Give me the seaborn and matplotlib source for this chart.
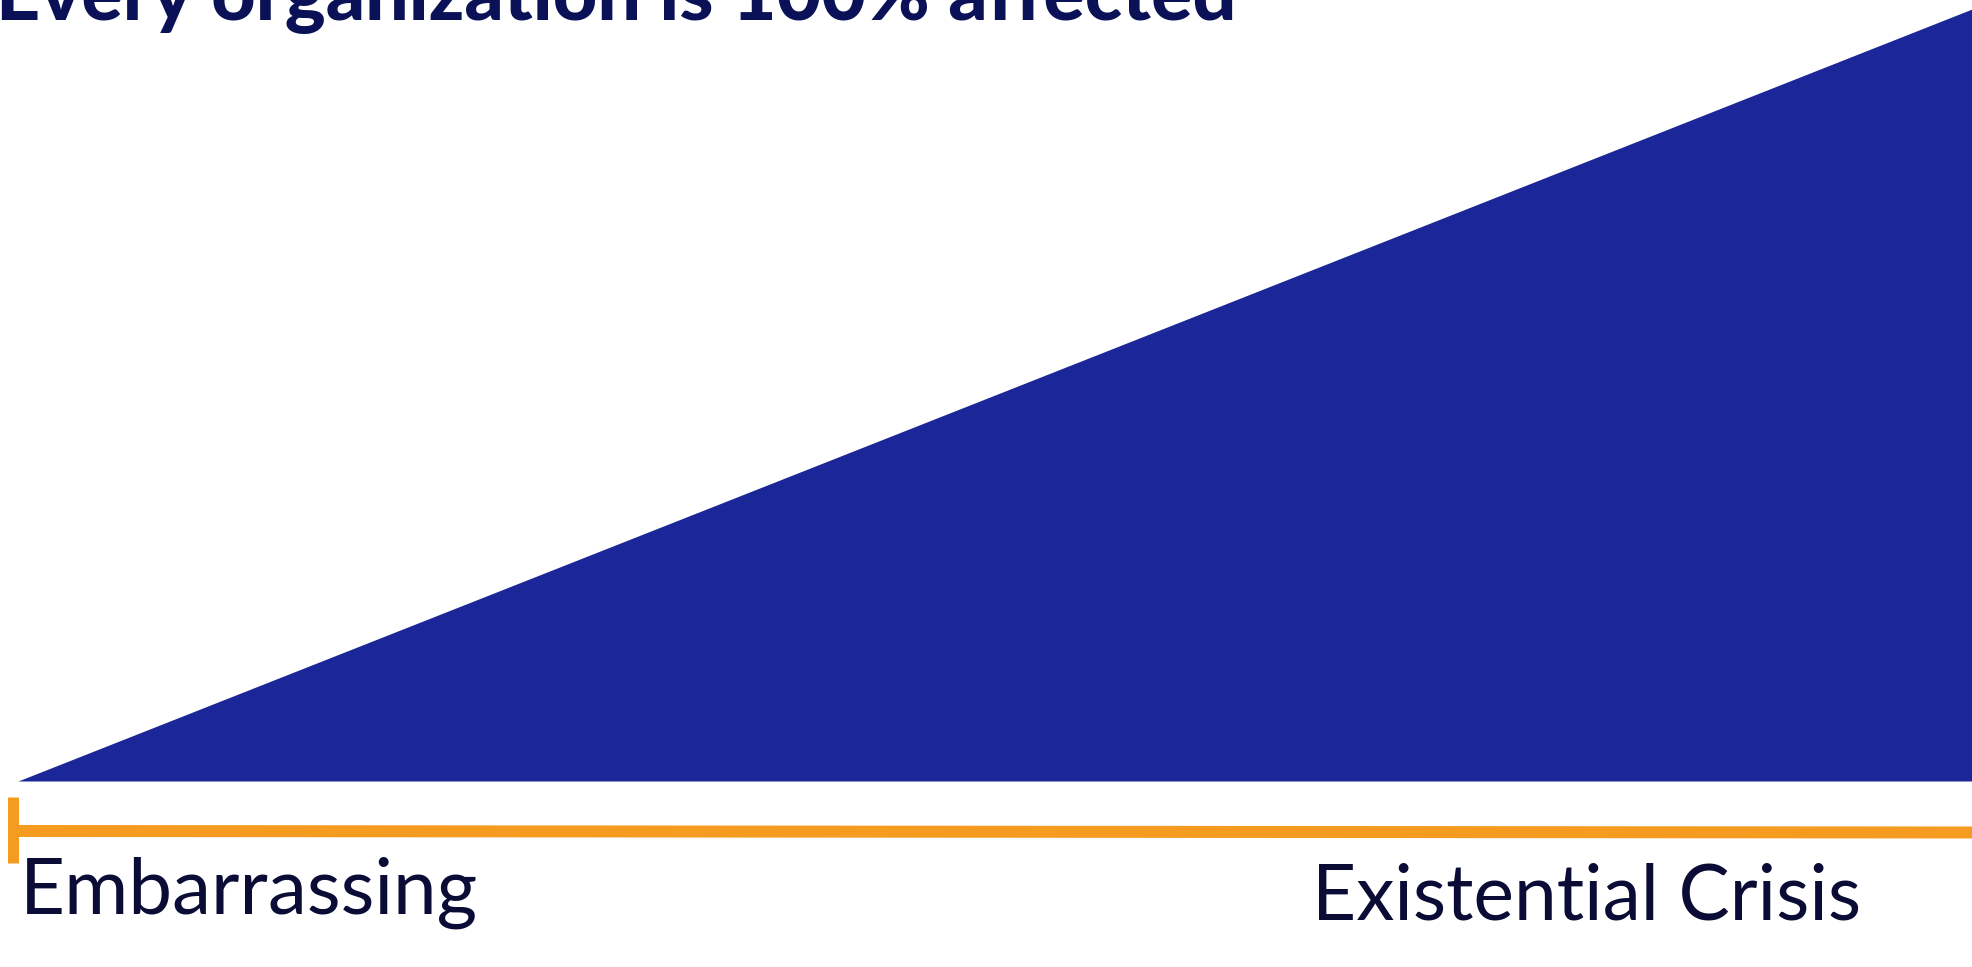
import matplotlib
matplotlib.use("Agg")
import matplotlib.pyplot as plt
import seaborn as sns
import pandas as pd

# ---- data ----
severity_pos = [0, 100]          # position along the severity scale
affected_pct = [0, 100]          # % of organizations affected
title_text = "Every organization is 100% affected"
low_label = "Embarrassing"
high_label = "Existential Crisis"

BLUE = "#1B2698"
ORANGE = "#F59B20"
NAVY = "#0B1157"
DARK = "#0A0C36"

sns.set_theme(style="white")
plt.rcParams['font.family'] = ['Lato', 'DejaVu Sans']

W, H = 1972, 967
fig = plt.figure(figsize=(W / 100, H / 100), dpi=100)
# axes: x=0 at px 18, x=100 at px 1972 ; y=0 at px 781, y=100 at px 9
left_px, right_px, bot_px, top_px = 18, 1972, 781, 9
ax = fig.add_axes([left_px / W, (H - bot_px) / H,
                   (right_px - left_px) / W, (bot_px - top_px) / H])
df = pd.DataFrame({"pos": severity_pos, "pct": affected_pct})
sns.lineplot(data=df, x="pos", y="pct", ax=ax, color=BLUE, linewidth=0)
ax.fill_between(df["pos"], 0, df["pct"], color=BLUE, linewidth=0)
ax.set_xlim(0, 100)
ax.set_ylim(0, 100)
ax.axis("off")

def px2data(xp, yp):
    return ((xp - left_px) / (right_px - left_px) * 100,
            (bot_px - yp) / (bot_px - top_px) * 100)

# orange scale line
x0, y0 = px2data(12, 831)
x1, y1 = px2data(1972, 832.5)
ax.plot([x0, x1], [y0, y1], color=ORANGE, lw=12 * 0.72, solid_capstyle="butt", clip_on=False)
cx, cy_top = px2data(12.5, 797)
_, cy_bot = px2data(12.5, 863)
ax.plot([cx, cx], [cy_top, cy_bot], color=ORANGE, lw=11 * 0.72, solid_capstyle="butt", clip_on=False)

fig.canvas.draw()
renderer = fig.canvas.get_renderer()

def fit_text(x_left, x_right, y_base, s, **kw):
    t = fig.text(x_left / W, 1 - y_base / H, s, ha="left", va="baseline", **kw)
    fs = kw.get("fontsize", 40)
    for _ in range(3):
        bb = t.get_window_extent(renderer)
        fs = fs * (x_right - x_left) / bb.width
        t.set_fontsize(fs)
    return t

fit_text(-4, 1238, 20, title_text, fontsize=70, fontweight="black", color=NAVY)
fit_text(20, 478, 914, low_label, fontsize=60, color=DARK)
fit_text(1312, 1861, 920, high_label, fontsize=60, color=DARK)

fig.savefig("out.png", dpi=100)
